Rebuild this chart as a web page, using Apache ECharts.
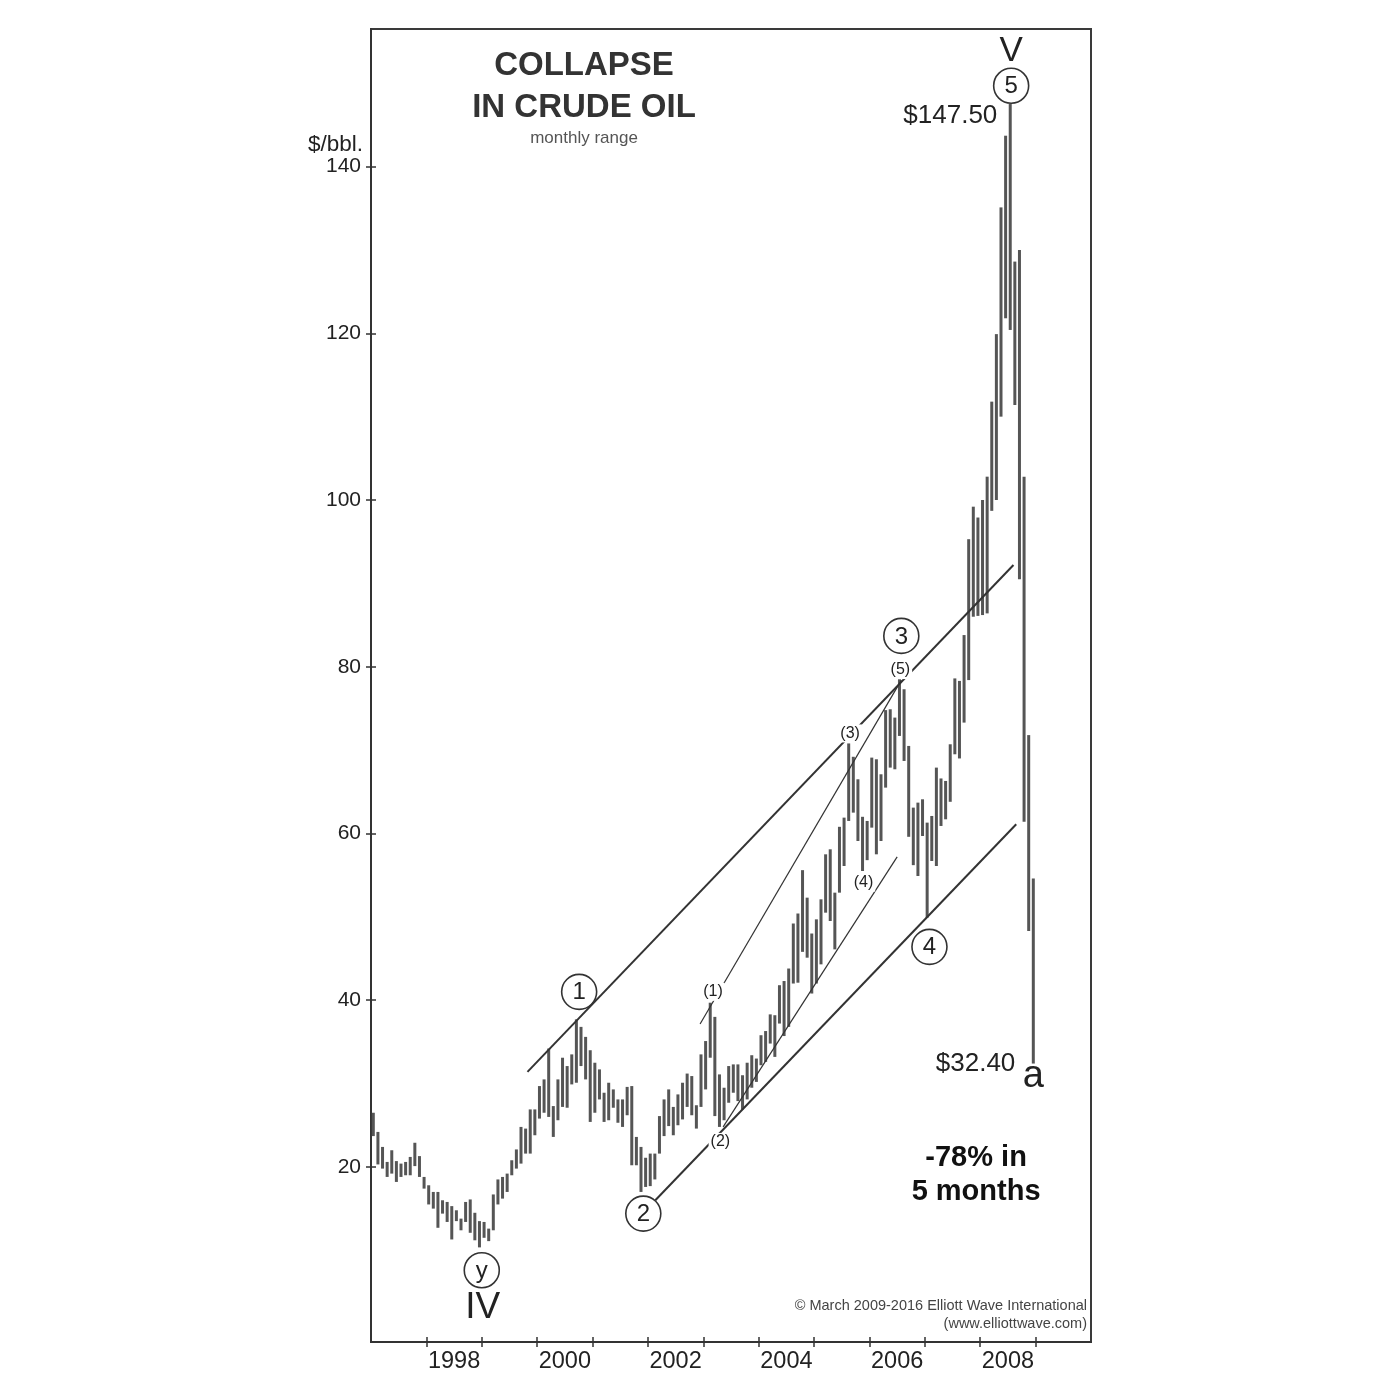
<!DOCTYPE html>
<html><head><meta charset="utf-8">
<script src="https://cdn.jsdelivr.net/npm/echarts@6/dist/echarts.min.js"></script>
<style>html,body{margin:0;padding:0;background:#fff}#c{width:1400px;height:1400px}</style>
</head><body><div id="c"></div>
<script>
// Monthly WTI crude oil range, Jan 1997 .. Dec 2008 (month index 0 = Jan 1997)
const startYear = 1997;
const highs = [
  26.5, 24.2, 22.4, 20.6, 22.0, 20.7, 20.4, 20.6, 21.2, 22.9, 21.3, 18.8,   // 1997
  17.8, 17.0, 17.0, 16.0, 15.8, 15.3, 14.8, 13.8, 15.8, 16.1, 14.5, 13.5,   // 1998
  13.4, 12.6, 16.7, 18.5, 18.8, 19.2, 20.8, 22.1, 24.8, 24.6, 26.9, 26.9,   // 1999
  29.7, 30.5, 34.2, 27.3, 30.5, 33.1, 32.1, 33.5, 37.7, 36.8, 35.6, 34.0,   // 2000
  32.5, 31.7, 28.9, 30.1, 29.3, 28.1, 28.1, 29.6, 29.7, 23.6, 22.4, 21.1,   // 2001
  21.6, 21.6, 26.1, 28.1, 29.3, 27.2, 28.7, 30.1, 31.2, 30.9, 27.4, 33.5,   // 2002
  35.1, 39.7, 38.0, 31.1, 29.5, 32.1, 32.3, 32.3, 31.0, 32.5, 33.4, 33.0,   // 2003
  35.8, 36.3, 38.3, 38.2, 41.8, 42.3, 43.8, 49.2, 50.4, 55.6, 52.3, 48.0,   // 2004
  49.7, 52.1, 57.5, 58.1, 52.9, 60.8, 61.9, 70.8, 69.2, 66.5, 62.0, 61.5,   // 2005
  69.1, 68.9, 67.1, 74.8, 74.9, 73.9, 78.5, 77.3, 70.5, 63.1, 63.7, 64.1,   // 2006
  61.3, 62.1, 67.9, 66.6, 66.3, 70.7, 78.6, 78.3, 83.8, 95.3, 99.2, 97.9,   // 2007
  100.0, 102.8, 111.8, 119.9, 135.1, 143.7, 147.5, 128.6, 130.0, 102.8, 71.8, 54.6 // 2008
];
const lows = [
  23.7, 20.3, 19.8, 18.8, 19.2, 18.2, 18.8, 19.0, 19.0, 20.1, 18.8, 17.4,   // 1997
  15.5, 15.0, 12.7, 14.4, 13.4, 11.3, 13.5, 12.4, 13.4, 12.1, 11.2, 10.35,  // 1998
  11.5, 11.1, 12.4, 15.5, 16.2, 17.0, 19.0, 19.8, 20.4, 21.6, 21.6, 23.8,   // 1999
  25.8, 26.5, 26.0, 23.6, 25.6, 27.2, 27.1, 29.9, 30.1, 32.1, 30.5, 25.4,   // 2000
  26.5, 28.1, 25.4, 25.6, 27.1, 25.3, 24.8, 26.2, 20.2, 20.2, 17.0, 17.6,   // 2001
  17.7, 18.5, 21.6, 23.7, 24.9, 23.8, 25.0, 25.7, 27.2, 26.2, 24.6, 27.2,   // 2002
  29.3, 33.1, 26.1, 24.8, 25.6, 27.7, 28.9, 27.9, 26.9, 28.1, 29.5, 30.2,   // 2003
  32.2, 32.6, 34.8, 33.2, 37.2, 35.7, 36.8, 42.0, 42.1, 45.8, 45.1, 40.8,   // 2004
  42.0, 44.3, 50.5, 49.5, 46.1, 52.9, 56.1, 61.5, 62.5, 59.1, 55.5, 56.8,   // 2005
  60.7, 57.5, 59.1, 65.5, 67.9, 67.7, 71.7, 68.7, 59.6, 56.2, 54.9, 59.7,   // 2006
  49.9, 56.7, 56.1, 60.9, 61.7, 63.8, 69.5, 69.0, 73.3, 78.4, 86.0, 86.1,   // 2007
  86.2, 86.4, 98.7, 100.0, 110.0, 121.8, 120.4, 111.4, 90.5, 61.4, 48.3, 32.4 // 2008
];
const yTickValues = [20, 40, 60, 80, 100, 120, 140];
const xTickValues = [12, 24, 36, 48, 60, 72, 84, 96, 108, 120, 132, 144];
// year labels sit in the middle of their year
const xLabelValues = [18, 42, 66, 90, 114, 138];
const xLabelTexts = ['1998', '2000', '2002', '2004', '2006', '2008'];

// Trend lines [monthIndex, price]
const upperChannel = [[33.9, 31.4], [139.2, 92.2]];
const lowerChannel = [[61.6, 16.0], [139.8, 61.1]];
const diagUpper = [[71.3, 37.15], [114.9, 78.4]];
const diagLower = [[76.3, 24.8], [114.0, 57.2]];

// Wave labels
const waveCircles = [
  { t: 'y', m: 24.0, v: 7.6 },
  { t: '1', m: 45.1, v: 41.0 },
  { t: '2', m: 59.0, v: 14.4 },
  { t: '3', m: 114.9, v: 83.7 },
  { t: '4', m: 121.0, v: 46.4 },
  { t: '5', m: 138.7, v: 149.7 }
];
const waveTexts = [
  { t: '(1)', m: 74.1, v: 41.0, size: 16, bg: true },
  { t: '(2)', m: 75.7, v: 23.0, size: 16, bg: true },
  { t: '(3)', m: 103.8, v: 72.0, size: 16, bg: true },
  { t: '(4)', m: 106.7, v: 54.1, size: 16, bg: true },
  { t: '(5)', m: 114.7, v: 79.6, size: 16, bg: true },
  { t: 'V', m: 138.7, v: 153.8, size: 35 },
  { t: 'IV', m: 24.2, v: 3.05, size: 37 },
  { t: 'a', m: 143.5, v: 30.8, size: 38 },
  { t: '$147.50', m: 135.7, v: 146.1, size: 26, align: 'right' },
  { t: '$32.40', m: 139.6, v: 32.4, size: 26, align: 'right' },
  { t: '-78% in', m: 131.1, v: 21.1, size: 29, bold: true },
  { t: '5 months', m: 131.1, v: 17.0, size: 29, bold: true }
];

const FONT = '"Liberation Sans", Arial, Helvetica, sans-serif';
const barData = highs.map((h, i) => [i + 0.5, lows[i], h]);

const chart = echarts.init(document.getElementById('c'), null, { renderer: 'canvas' });

function lineSeries(name, pts, width) {
  return {
    name, type: 'line', data: pts, xAxisIndex: 0, yAxisIndex: 0,
    symbol: 'none', silent: true, z: 3,
    lineStyle: { color: '#333', width: width }
  };
}

const option = {
  animation: false,
  backgroundColor: '#fff',
  grid: { left: 371, right: 309, top: 29, bottom: 58, show: true, borderColor: '#3a3a3a', borderWidth: 2, backgroundColor: 'transparent' },
  xAxis: [{
    type: 'value', min: 0, max: 156, position: 'bottom',
    axisLine: { show: true, onZero: false, lineStyle: { color: '#333', width: 2 } },
    axisTick: { show: true, inside: false, length: 5, customValues: xTickValues, lineStyle: { color: '#333', width: 1.5 } },
    axisLabel: {
      show: true, customValues: xLabelValues, margin: 8,
      fontFamily: FONT, fontSize: 23.5, color: '#222',
      formatter: v => xLabelTexts[xLabelValues.indexOf(Math.round(v))] || ''
    },
    splitLine: { show: false }
  }, {
    type: 'value', min: 0, max: 156, position: 'bottom',
    axisLine: { show: false, onZero: false },
    axisTick: { show: true, inside: true, length: 5, customValues: xTickValues, lineStyle: { color: '#333', width: 1.5 } },
    axisLabel: { show: false }, splitLine: { show: false }
  }],
  yAxis: [{
    type: 'value', min: -1, max: 156.5, position: 'left',
    axisLine: { show: true, onZero: false, lineStyle: { color: '#333', width: 2 } },
    axisTick: { show: true, inside: false, length: 5, customValues: yTickValues, lineStyle: { color: '#333', width: 1.5 } },
    axisLabel: { show: true, customValues: yTickValues, margin: 10, fontFamily: FONT, fontSize: 21, color: '#222' },
    splitLine: { show: false }
  }, {
    type: 'value', min: -1, max: 156.5, position: 'left',
    axisLine: { show: false, onZero: false },
    axisTick: { show: true, inside: true, length: 5, customValues: yTickValues, lineStyle: { color: '#333', width: 1.5 } },
    axisLabel: { show: false }, splitLine: { show: false }
  }],
  series: [
    {
      name: 'monthly range', type: 'custom', data: barData,
      xAxisIndex: 0, yAxisIndex: 0, encode: { x: 0, y: [1, 2] }, z: 2,
      renderItem: (params, api) => {
        const x = api.value(0);
        const p1 = api.coord([x, api.value(1)]);
        const p2 = api.coord([x, api.value(2)]);
        return { type: 'line', shape: { x1: p1[0], y1: p1[1], x2: p2[0], y2: p2[1] },
                 style: { stroke: '#555', lineWidth: 3 } };
      }
    },
    lineSeries('upper channel', upperChannel, 2),
    lineSeries('lower channel', lowerChannel, 2),
    lineSeries('diagonal upper', diagUpper, 1.2),
    lineSeries('diagonal lower', diagLower, 1.2),
    {
      name: 'wave texts', type: 'custom', data: waveTexts.map(a => [a.m, a.v]),
      xAxisIndex: 0, yAxisIndex: 0, z: 5, silent: true, clip: false,
      renderItem: (params, api) => {
        const a = waveTexts[params.dataIndex];
        const p = api.coord([api.value(0), api.value(1)]);
        const style = {
          text: a.t, x: p[0], y: p[1],
          font: (a.bold ? 'bold ' : '') + a.size + 'px ' + FONT,
          fill: a.bold ? '#111' : '#222',
          align: a.align || 'center', verticalAlign: 'middle'
        };
        if (a.bg) { style.backgroundColor = '#fff'; style.padding = [1, 2]; }
        return { type: 'text', style };
      }
    },
    {
      name: 'wave circles', type: 'custom', data: waveCircles.map(a => [a.m, a.v]),
      xAxisIndex: 0, yAxisIndex: 0, z: 6, silent: true, clip: false,
      renderItem: (params, api) => {
        const a = waveCircles[params.dataIndex];
        const p = api.coord([api.value(0), api.value(1)]);
        return {
          type: 'group', children: [
            { type: 'circle', shape: { cx: p[0], cy: p[1], r: 17.5 },
              style: { fill: 'rgba(255,255,255,0)', stroke: '#333', lineWidth: 1.6 } },
            { type: 'text', style: { text: a.t, x: p[0], y: p[1] + 1, font: '24px ' + FONT, fill: '#222', align: 'center', verticalAlign: 'middle' } }
          ]
        };
      }
    }
  ],
  graphic: [
    { type: 'text', x: 584, y: 66, style: { text: 'COLLAPSE', font: 'bold 33px ' + FONT, fill: '#333', align: 'center', verticalAlign: 'middle' } },
    { type: 'text', x: 584, y: 107.5, style: { text: 'IN CRUDE OIL', font: 'bold 33px ' + FONT, fill: '#333', align: 'center', verticalAlign: 'middle' } },
    { type: 'text', x: 584, y: 138, style: { text: 'monthly range', font: '17px ' + FONT, fill: '#555', align: 'center', verticalAlign: 'middle' } },
    { type: 'text', x: 363, y: 145, style: { text: '$/bbl.', font: '22.5px ' + FONT, fill: '#222', align: 'right', verticalAlign: 'middle' } },
    { type: 'text', x: 1087, y: 1306, style: { text: '\u00A9 March 2009-2016 Elliott Wave International', font: '14.5px ' + FONT, fill: '#444', align: 'right', verticalAlign: 'middle' } },
    { type: 'text', x: 1087, y: 1324, style: { text: '(www.elliottwave.com)', font: '14.5px ' + FONT, fill: '#444', align: 'right', verticalAlign: 'middle' } }
  ]
};
chart.setOption(option);
</script>
</body></html>
